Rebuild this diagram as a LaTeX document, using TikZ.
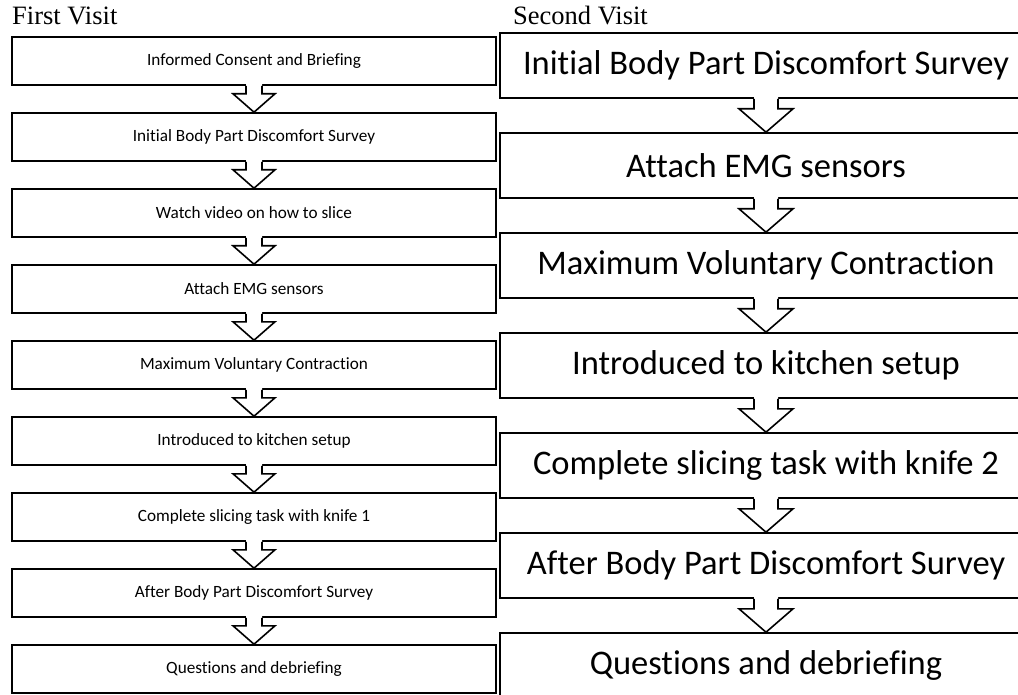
\documentclass[tikz,border=0pt]{standalone}
\usepackage{fontspec}
\setmainfont{Liberation Serif}
\newfontfamily\calfont[Ligatures=NoCommon]{Carlito}
\usetikzlibrary{calc}
\tikzset{
 lbox/.style={draw, line width=1.6pt, minimum width=484pt, minimum height=48pt, inner sep=0pt, font=\calfont\fontsize{17.2}{20}\selectfont},
 rbox/.style={draw, line width=1.6pt, minimum width=532pt, minimum height=65pt, inner sep=0pt, font=\calfont\fontsize{34.5}{40}\selectfont},
 ttl/.style={anchor=base west, inner sep=0pt, font=\fontsize{26.5}{30}\selectfont},
 barrow/.style={line width=1.6pt, line join=miter},
}
\newcommand\blockarrow[5]{%
 \fill[white] let \p1=(#1.south), \p2=(#2.north) in (\x1-#3,\y1+3pt) -- (\x1-#3,\y1-#5) -- (\x1-#4,\y1-#5) -- (\x2,\y2) -- (\x1+#4,\y1-#5) -- (\x1+#3,\y1-#5) -- (\x1+#3,\y1+3pt) -- cycle;
 \draw[barrow] let \p1=(#1.south), \p2=(#2.north) in (\x1-#3,\y1) -- (\x1-#3,\y1-#5) -- (\x1-#4,\y1-#5) -- (\x2,\y2) -- (\x1+#4,\y1-#5) -- (\x1+#3,\y1-#5) -- (\x1+#3,\y1);
}
\begin{document}
\begin{tikzpicture}[x=1pt,y=-1pt]
\useasboundingbox (0,0) rectangle (1018,695);
\node[ttl] (t1) at (12,25) {First Visit};
\node[ttl] (t2) at (513,25) {Second Visit};
% left column
\node[lbox] (l1) at (254,61) {Informed Consent and Briefing};
\node[lbox] (l2) at (254,137) {Initial Body Part Discomfort Survey};
\node[lbox] (l3) at (254,213) {Watch video on how to slice};
\node[lbox] (l4) at (254,289) {Attach EMG sensors};
\node[lbox] (l5) at (254,365) {Maximum Voluntary Contraction};
\node[lbox] (l6) at (254,441) {Introduced to kitchen setup};
\node[lbox] (l7) at (254,517) {Complete slicing task with knife 1};
\node[lbox] (l8) at (254,593) {After Body Part Discomfort Survey};
\node[lbox] (l9) at (254,669) {Questions and debriefing};
% right column
\node[rbox] (r1) at (766,65.5) {Initial Body Part Discomfort Survey};
\node[rbox] (r2) at (766,165.5) {Attach EMG sensors};
\node[rbox] (r3) at (766,265.5) {Maximum Voluntary Contraction};
\node[rbox] (r4) at (766,365.5) {Introduced to kitchen setup};
\node[rbox] (r5) at (766,465.5) {Complete slicing task with knife 2};
\node[rbox] (r6) at (766,565.5) {After Body Part Discomfort Survey};
\node[rbox] (r7) at (766,665.5) {Questions and debriefing};
% arrows
\foreach \a/\b in {l1/l2,l2/l3,l3/l4,l4/l5,l5/l6,l6/l7,l7/l8,l8/l9}{\blockarrow{\a}{\b}{8pt}{21pt}{8pt}}
\foreach \a/\b in {r1/r2,r2/r3,r3/r4,r4/r5,r5/r6,r6/r7}{\blockarrow{\a}{\b}{12pt}{27pt}{10pt}}
\end{tikzpicture}
\end{document}
